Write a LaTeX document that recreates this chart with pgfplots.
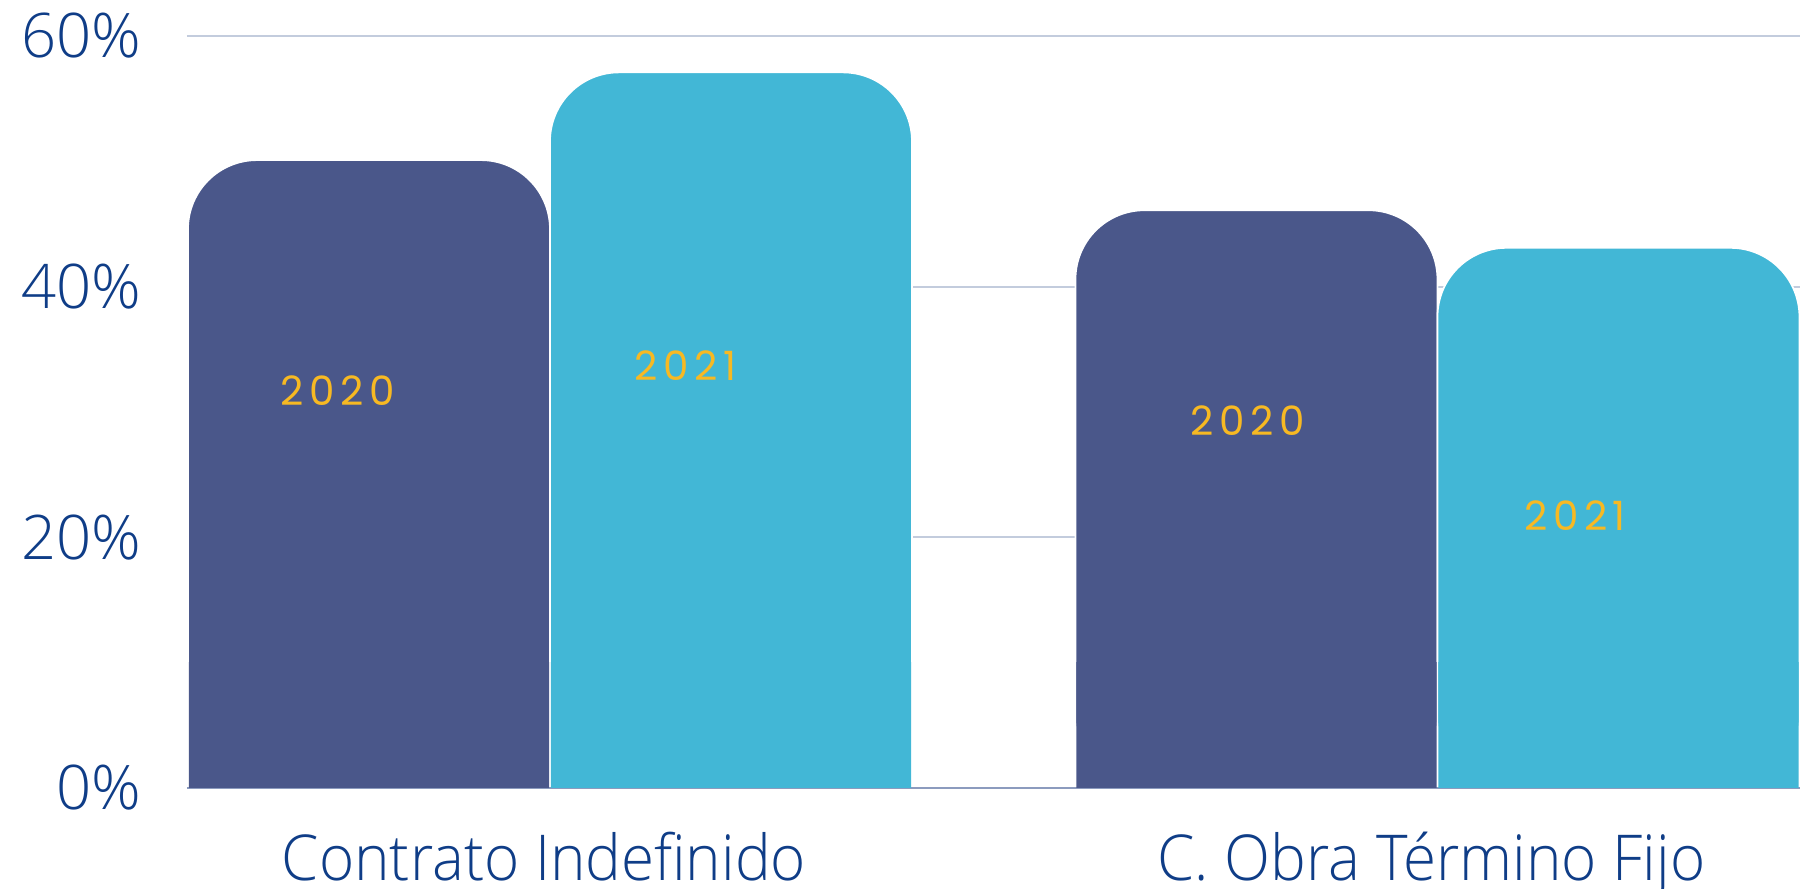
\documentclass[border=0pt]{standalone}
\usepackage{fontspec}
\setmainfont{Open Sans Light}[FakeStretch=0.95]
\newfontfamily\tickfont{Open Sans Light}
\newfontfamily\yearfont[LetterSpace=14]{Poppins}
\usepackage{pgfplots}
\usepackage{pgfplotstable}
\pgfplotsset{compat=1.18}
\definecolor{barDark}{HTML}{4A578A}
\definecolor{barLight}{HTML}{42B7D6}
\definecolor{txtBlue}{HTML}{0F3D87}
\definecolor{yearYellow}{HTML}{F7B923}
\definecolor{gridBlue}{HTML}{C3CCDD}
\definecolor{zeroLine}{HTML}{8C9BBE}

\pgfplotstableread{
x y
0 50.1
1 46.1
}\yearA
\pgfplotstableread{
x y
0 57.1
1 43.1
}\yearB

\pgfplotsset{
    barframe/.style={
        at={(18.7mm,10.1mm)}, anchor=south west,
        scale only axis, width=161.3mm,
        xmin=-0.409, xmax=1.4085, ymin=0,
        ybar=0pt, bar width=36.2mm,
    },
}
\begin{document}
\begin{tikzpicture}
\useasboundingbox (0,0) rectangle (180.9mm,88.9mm);
\begin{axis}[
    barframe, height=75.2mm, ymax=60,
    xtick={0,1},
    xticklabels={Contrato Indefinido, C. Obra Término Fijo},
    ytick={20,40,60},
    yticklabels={20\%,40\%,60\%},
    extra y ticks={0},
    extra y tick labels={0\%},
    extra y tick style={grid style={color=zeroLine, line width=0.6pt}},
    ymajorgrids,
    grid style={color=gridBlue, line width=0.6pt},
    axis line style={draw=none},
    major tick length=0pt,
    /pgf/number format/assume math mode=true,
    xticklabel style={font=\fontsize{18}{20}\selectfont, text=txtBlue, inner sep=0pt, yshift=-4.3mm, xshift=-0.6mm},
    yticklabel style={font=\tickfont\fontsize{17.5}{19}\selectfont, text=txtBlue, xshift=-3.3mm},
    every axis plot/.append style={draw=white, line width=0.5pt, rounded corners=6.9mm},
]
\addplot[fill=barDark] table {\yearA};
\addplot[fill=barLight] table {\yearB};

\node[text=yearYellow, font=\yearfont\fontsize{11.5}{12}\selectfont] at (axis cs:-0.239,31.7) {2020};
\node[text=yearYellow, font=\yearfont\fontsize{11.5}{12}\selectfont] at (axis cs:0.153,33.7) {2021};
\node[text=yearYellow, font=\yearfont\fontsize{11.5}{12}\selectfont] at (axis cs:0.786,29.3) {2020};
\node[text=yearYellow, font=\yearfont\fontsize{11.5}{12}\selectfont] at (axis cs:1.155,21.7) {2021};
\end{axis}
% same bars again, square-cornered and clipped to the lowest tenth, so only the tops stay rounded
\begin{axis}[
    barframe, height=12.533mm, ymax=10,
    hide axis, bar width=36.024mm,
    every axis plot/.append style={draw=none},
]
\addplot[fill=barDark, bar shift=-18.1mm] table {\yearA};
\addplot[fill=barLight, bar shift=18.1mm] table {\yearB};
\end{axis}
\end{tikzpicture}
\end{document}
